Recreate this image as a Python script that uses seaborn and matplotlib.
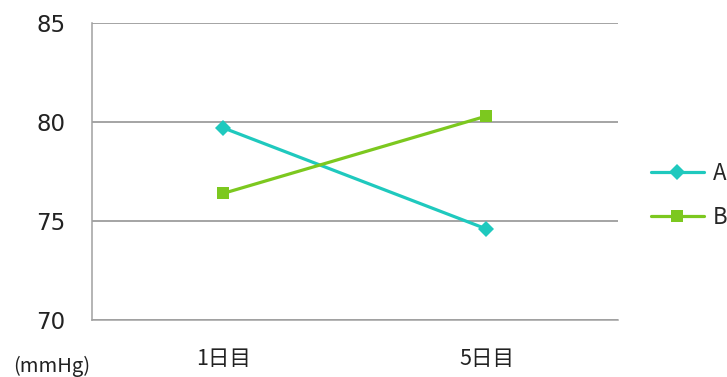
import matplotlib
matplotlib.use("Agg")
import matplotlib.pyplot as plt
import seaborn as sns
import pandas as pd

days = ["1日目", "5日目"]
series_a = [79.7, 74.6]
series_b = [76.4, 80.3]
y_ticks = [70, 75, 80, 85]

sns.set_theme(style="white")
plt.rcParams["font.family"] = ["Noto Sans CJK JP", "DejaVu Sans"]

df = pd.DataFrame({
    "day": days * 2,
    "value": series_a + series_b,
    "group": ["A"] * len(days) + ["B"] * len(days),
})

fig = plt.figure(figsize=(7.27, 3.77), dpi=100)
ax = fig.add_axes([0.1265, 0.151, 0.7235, 0.788])

palette = {"A": "#1fc9be", "B": "#7cc81f"}
sns.lineplot(data=df, x="day", y="value", hue="group", style="group",
             palette=palette, markers={"A": "D", "B": "s"}, dashes=False,
             markersize=8, markeredgewidth=0, linewidth=2.3, ax=ax,
             sort=False)

ax.set_xlim(-0.5, 1.5)
ax.set_ylim(70, 85)
ax.set_yticks(y_ticks)
ax.set_yticklabels([str(v) for v in y_ticks], fontsize=16.5, color="#222222",
                   family=["DejaVu Sans"])
ax.tick_params(axis="y", length=0, pad=19)
ax.yaxis.grid(True, color="#8c8c8c", linewidth=1.1)
ax.set_axisbelow(True)

ax.set_xticks([0, 1])
ax.set_xticklabels(days, fontsize=15.5, color="#222222")
ax.tick_params(axis="x", length=0, pad=20)
ax.set_xticks([-0.5, 0.5, 1.5], minor=True)
ax.tick_params(axis="x", which="minor", direction="in", length=6,
               color="#a0a0a0", width=1.1)

for side in ["top", "right"]:
    ax.spines[side].set_visible(False)
for side in ["left", "bottom"]:
    ax.spines[side].set_color("#a0a0a0")
    ax.spines[side].set_linewidth(1.1)

ax.set_xlabel("")
ax.set_ylabel("")
fig.text(0.018, 0.027, "(mmHg)", fontsize=14.5, color="#222222",
         ha="left", va="center")

handles, labels = ax.get_legend_handles_labels()
ax.legend(handles, labels, loc="center left", bbox_to_anchor=(1.045, 0.42),
          frameon=False, fontsize=16, handlelength=2.4, labelspacing=0.95,
          handletextpad=0.4, borderaxespad=0)

fig.savefig("out.png", dpi=100)
